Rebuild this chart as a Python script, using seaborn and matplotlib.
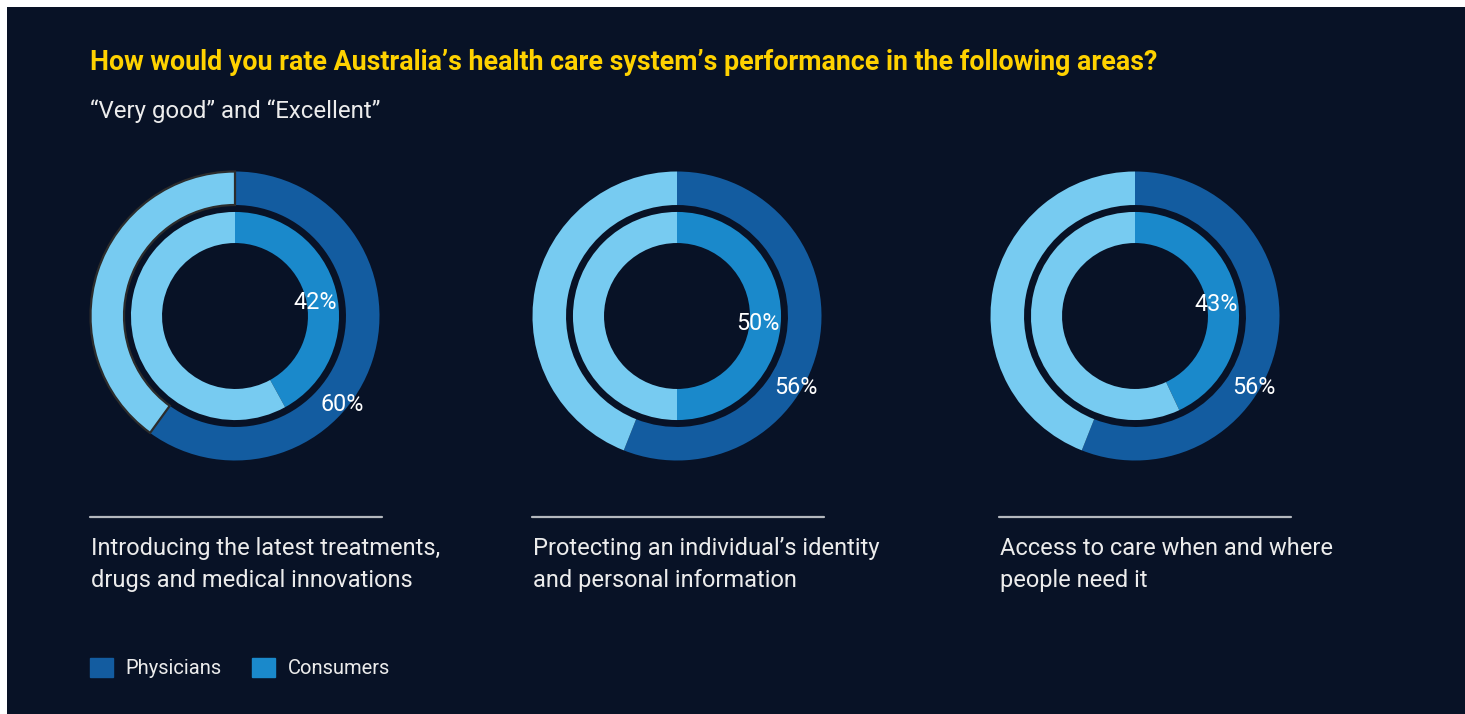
import numpy as np
import matplotlib
matplotlib.use("Agg")
import matplotlib.pyplot as plt
import seaborn as sns
from matplotlib.patches import Patch, Rectangle
from matplotlib.lines import Line2D

# chart data
title = "How would you rate Australia’s health care system’s performance in the following areas?"
subtitle = "“Very good” and “Excellent”"
areas = [
    "Introducing the latest treatments,\ndrugs and medical innovations",
    "Protecting an individual’s identity\nand personal information",
    "Access to care when and where\npeople need it",
]
physicians = [60, 56, 56]
consumers = [42, 50, 43]
series_names = ["Physicians", "Consumers"]

# style
BG = "#081226"
C_PHYS = "#135CA0"
C_CONS = "#1A89CB"
C_REST = "#77CBF1"
YELLOW = "#FFD200"
TEXT = "#ECECEC"
RULE = "#B4B8BE"

W, H = 1465, 714
sns.set_theme(style="white")
plt.rcParams["font.family"] = ["Roboto", "DejaVu Sans"]

fig = plt.figure(figsize=(W / 100, H / 100), dpi=100, facecolor="white")
fig.patches.append(Rectangle((7 / W, 0), 1 - 7 / W, 1 - 7 / H,
                             transform=fig.transFigure, facecolor=BG,
                             edgecolor="none", zorder=-10))


def fx(px):
    return px / W


def fy(py):
    return 1 - py / H


fig.text(fx(90), fy(70.5), title, color=YELLOW, fontsize=19.3,
         fontweight="bold", va="baseline", ha="left")
fig.text(fx(90), fy(118), subtitle, color=TEXT, fontsize=17.3,
         va="baseline", ha="left")

centers = [235, 677, 1135]
cy = 316
R = 144.5  # outer radius in px
rule_x = [90, 532, 999]
outlined = [True, False, False]

for i, (area, p, c) in enumerate(zip(areas, physicians, consumers)):
    cx = centers[i]
    ax = fig.add_axes([fx(cx - R), fy(cy + R), 2 * R / W, 2 * R / H])
    outer, _ = ax.pie([p, 100 - p], radius=1, startangle=90, counterclock=False,
                      colors=[C_PHYS, C_REST],
                      wedgeprops=dict(width=0.232, linewidth=0))
    ax.pie([c, 100 - c], radius=0.72, startangle=90, counterclock=False,
           colors=[C_CONS, C_REST],
           wedgeprops=dict(width=0.215, linewidth=0))
    if outlined[i]:
        outer[1].set_edgecolor("#2c2c2c")
        outer[1].set_linewidth(1.6)
    ax.set_xlim(-1, 1)
    ax.set_ylim(-1, 1)
    ax.set_aspect("equal")
    ax.axis("off")

    # value labels
    th = np.deg2rad(90 - 0.53 * c * 3.6)
    ax.text(0.565 * np.cos(th), 0.565 * np.sin(th), f"{c}%", color="white",
            fontsize=16.8, ha="center", va="center")
    th = np.deg2rad(90 - 0.6 * p * 3.6)
    ax.text(0.96 * np.cos(th), 0.96 * np.sin(th), f"{p}%", color="white",
            fontsize=16.8, ha="center", va="center")

    # rule + caption
    x0 = rule_x[i]
    fig.add_artist(Line2D([fx(x0), fx(x0 + 292)], [fy(517), fy(517)],
                          color=RULE, linewidth=1.6))
    for j, line in enumerate(area.split("\n")):
        fig.text(fx(x0 + 1), fy(555 + 32 * j), line, color=TEXT,
                 fontsize=17.0, va="baseline", ha="left")

handles = [Patch(color=C_PHYS, label=series_names[0]),
           Patch(color=C_CONS, label=series_names[1])]
fig.legend(handles=handles, loc="center left", bbox_to_anchor=(fx(90), fy(668)),
           ncol=2, frameon=False, fontsize=14.5, handlelength=1.14,
           handleheight=1.14, handletextpad=0.6, columnspacing=1.55,
           borderpad=0, borderaxespad=0, labelcolor=TEXT)

fig.savefig("out.png", dpi=100, facecolor=fig.get_facecolor())
plt.close(fig)
